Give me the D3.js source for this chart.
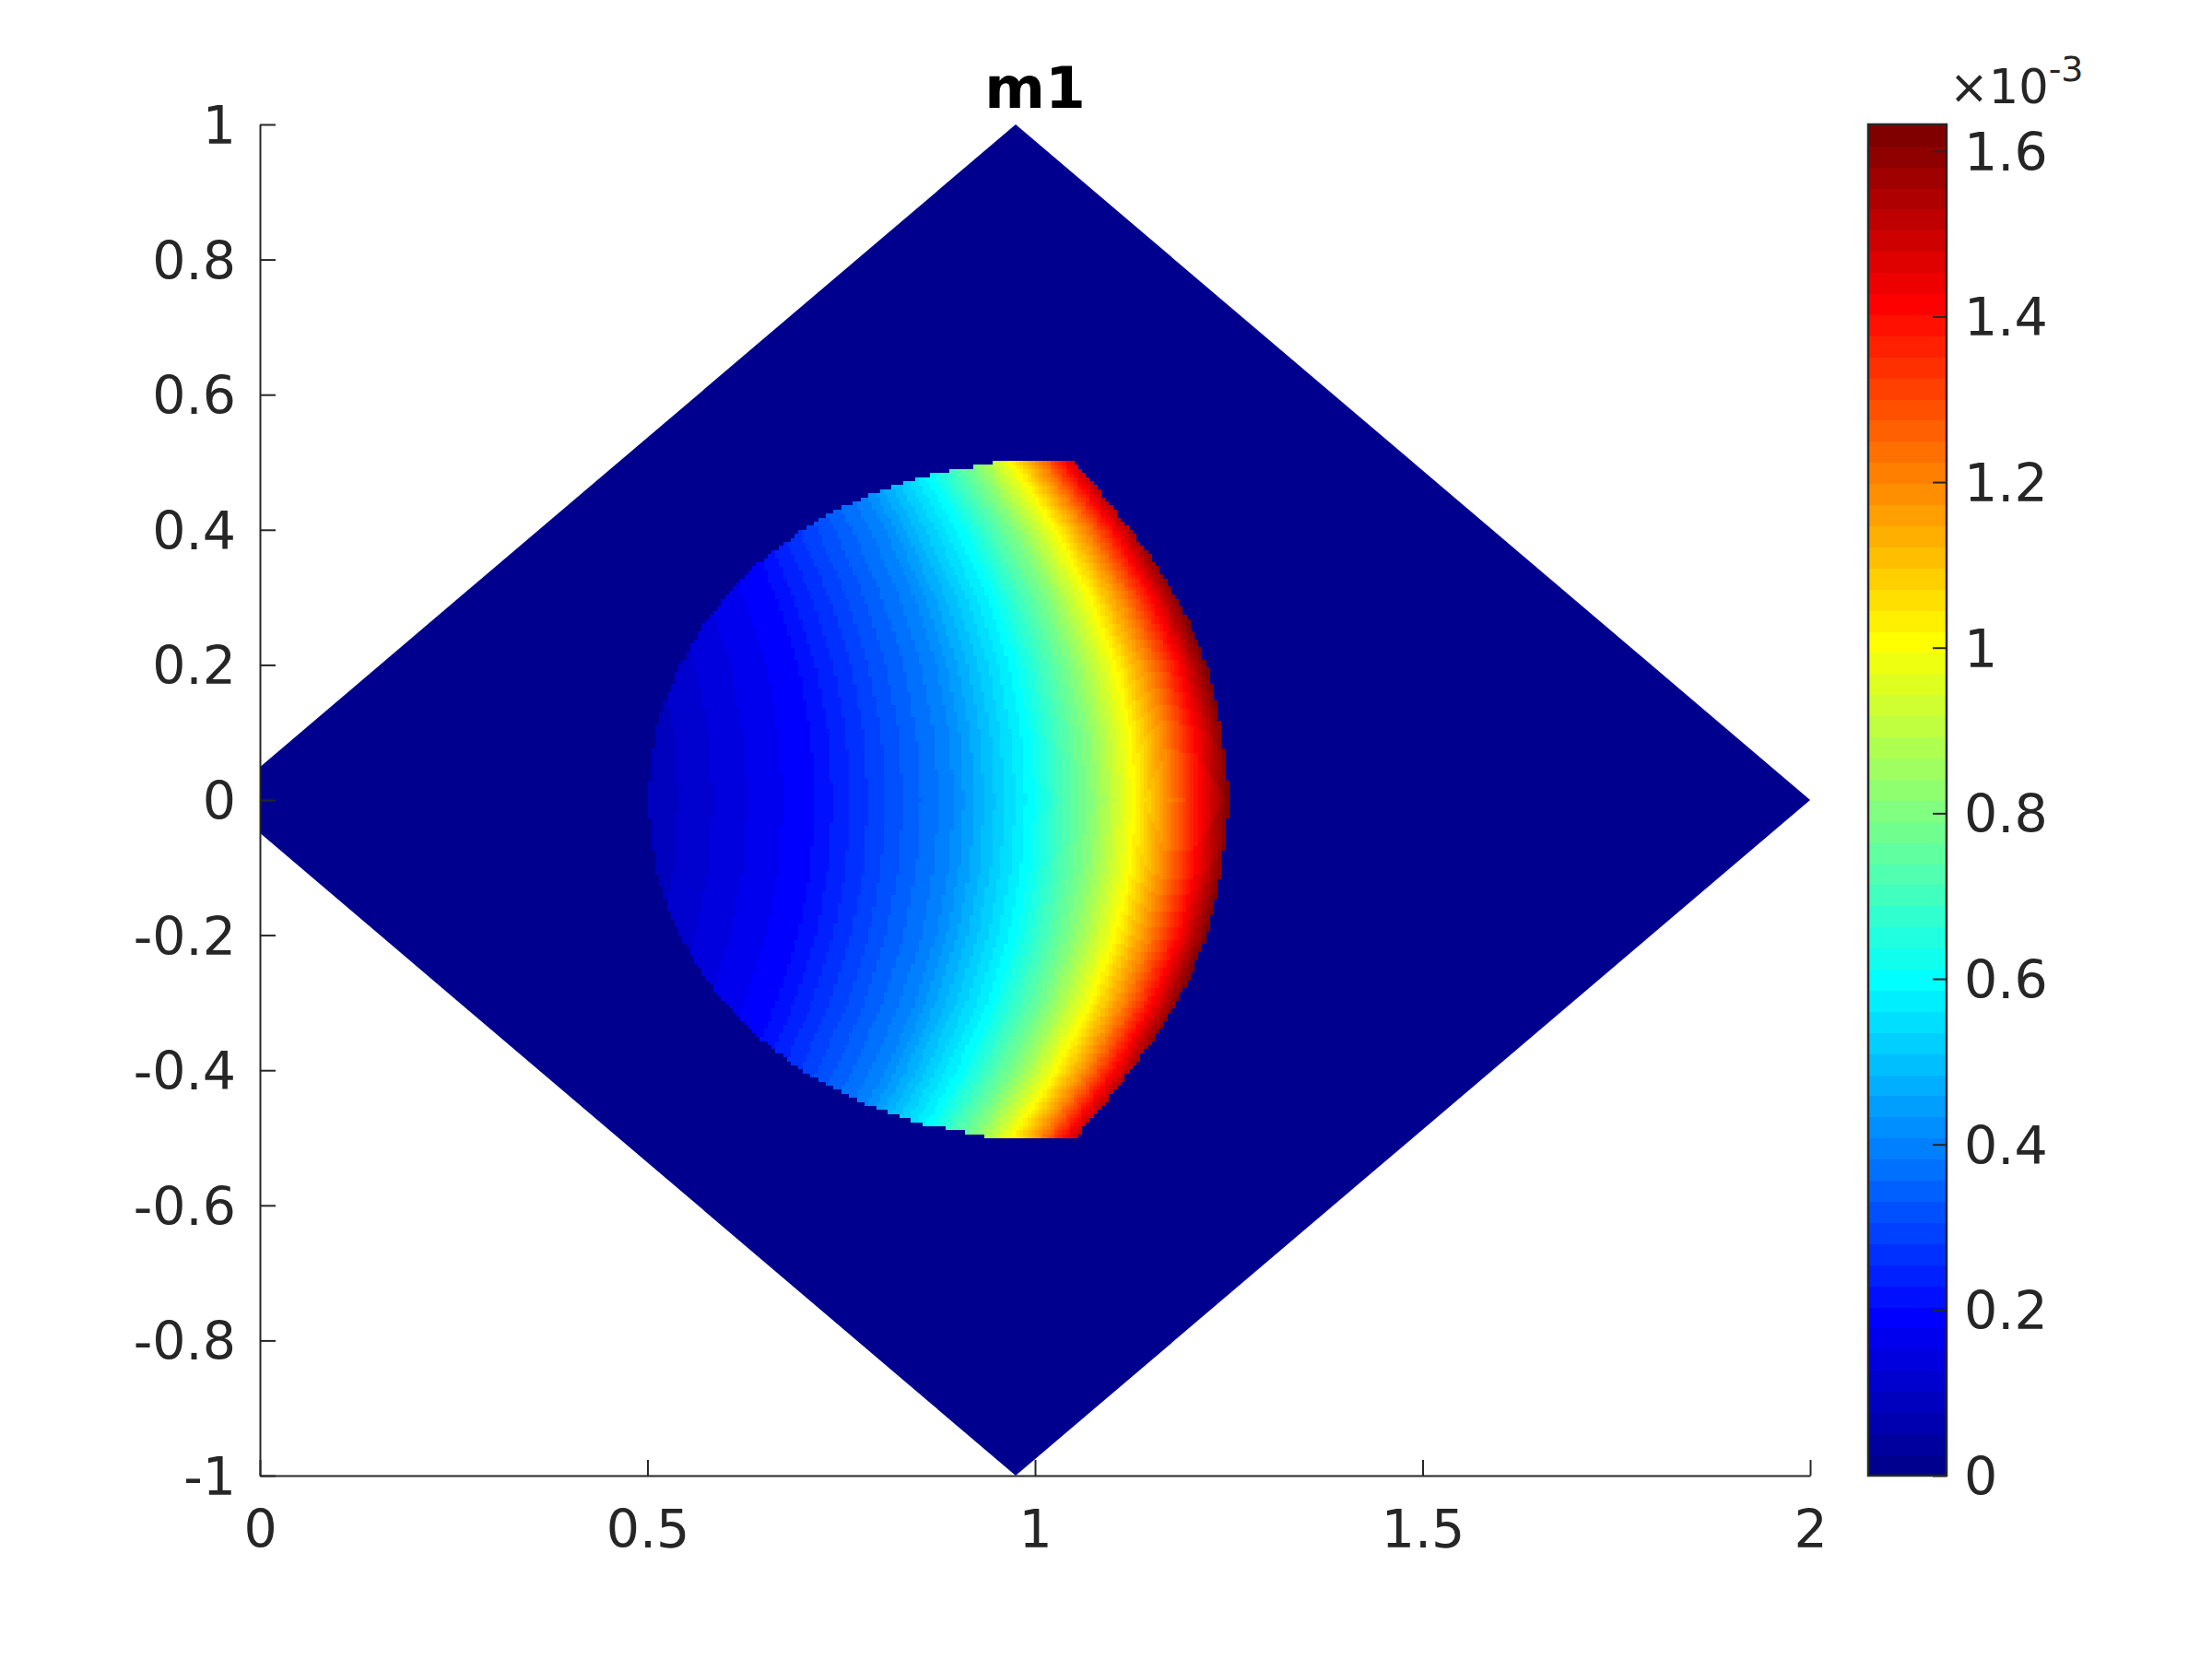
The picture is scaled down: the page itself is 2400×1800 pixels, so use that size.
<!DOCTYPE html>
<html>
<head>
<meta charset="utf-8">
<script src="https://cdn.jsdelivr.net/npm/d3@7"></script>
<style>
  body { margin: 0; background: #fff; }
  text { font-family: "DejaVu Sans", sans-serif; }
</style>
</head>
<body>
<svg id="chart" width="2400" height="1800"></svg>
<script>
// ---- data ----
// outer mesh (square turned 45 deg), cut by the axes at x = 0
var meshX = [-0.05, 0.975, 2.0, 0.975];
var meshY = [0, 1, 0, -1];

// where m1 is non zero (symmetric about y = 0)
var edgeY     = [0, 0.1, 0.15, 0.2, 0.26, 0.3, 0.35, 0.4, 0.42, 0.45, 0.48, 0.5];
var edgeLeft  = [0.5, 0.51, 0.523, 0.542, 0.573, 0.6, 0.643, 0.7, 0.729, 0.782, 0.86, 0.95];
var edgeRight = [1.25, 1.24, 1.232, 1.221, 1.2, 1.181, 1.155, 1.122, 1.108, 1.088, 1.066, 1.051];

// m1 levels (x 1e-3) and the x where each level is crossed on rows |y| = rowY
var rowY   = [0, 0.1, 0.2, 0.3, 0.4, 0.5];
var levels = [0.05, 0.1, 0.2, 0.4, 0.6, 0.8, 1.0, 1.2, 1.4, 1.6, 1.632];
var levelX = [
  [0.36, 0.355, 0.34, 0.31, 0.27, 0.22],
  [0.535, 0.53, 0.513, 0.485, 0.447, 0.398],
  [0.713, 0.707, 0.691, 0.663, 0.625, 0.575],
  [0.891, 0.885, 0.869, 0.841, 0.803, 0.753],
  [0.995, 0.989, 0.973, 0.945, 0.905, 0.855],
  [1.069, 1.063, 1.045, 1.015, 0.973, 0.919],
  [1.126, 1.12, 1.101, 1.069, 1.025, 0.968],
  [1.173, 1.166, 1.146, 1.113, 1.066, 1.006],
  [1.212, 1.205, 1.184, 1.149, 1.1, 1.037],
  [1.246, 1.239, 1.217, 1.181, 1.131, 1.066],
  [1.252, 1.245, 1.223, 1.187, 1.137, 1.072]
];

var cMax = 1.632;   // colour limit, x 1e-3
var xTicks = [0, 0.5, 1, 1.5, 2];
var yTicks = [-1, -0.8, -0.6, -0.4, -0.2, 0, 0.2, 0.4, 0.6, 0.8, 1];
var cTicks = [0, 0.2, 0.4, 0.6, 0.8, 1, 1.2, 1.4, 1.6];

// ---- layout ----
var plotLeft = 282, plotRight = 1964, plotTop = 135, plotBottom = 1601;
var cbLeft = 2027, cbRight = 2112;
var axisColor = "#262626";
var fontSize = 57;

var svg = d3.select("#chart");

var x = d3.scaleLinear().domain([0, 2]).range([plotLeft, plotRight]);
var y = d3.scaleLinear().domain([-1, 1]).range([plotBottom, plotTop]);

// MATLAB jet colormap with n entries
function jet(n) {
  var m = Math.ceil(n / 4), u = [], i;
  for (i = 1; i <= m; i++) u.push(i / m);
  for (i = 1; i < m; i++) u.push(1);
  for (i = m; i >= 1; i--) u.push(i / m);
  var g0 = Math.ceil(m / 2) - (n % 4 === 1 ? 1 : 0);
  var cols = d3.range(n).map(function() { return [0, 0, 0]; });
  u.forEach(function(v, k) {
    var g = g0 + k + 1, r = g + m, b = g - m;
    if (r <= n) cols[r - 1][0] = v;
    if (g <= n) cols[g - 1][1] = v;
    if (b >= 1) cols[b - 1][2] = v;
  });
  return cols.map(function(c) {
    return d3.rgb(c[0] * 255, c[1] * 255, c[2] * 255).formatHex();
  });
}
var jetColors = jet(64);
var color = d3.scaleQuantize().domain([0, cMax]).range(jetColors);

svg.append("defs").append("clipPath")
  .attr("id", "clip")
  .append("rect")
  .attr("x", plotLeft).attr("y", plotTop)
  .attr("width", plotRight - plotLeft).attr("height", plotBottom - plotTop);

var plot = svg.append("g").attr("clip-path", "url(#clip)");

// outer mesh, value 0
plot.append("path")
  .attr("d", d3.line()(meshX.map(function(d, i) { return [x(d), y(meshY[i])]; })) + "Z")
  .attr("fill", color(0));

// the non zero part, drawn as small mesh cells
var leftAt = d3.scaleLinear().domain(edgeY).range(edgeLeft);
var rightAt = d3.scaleLinear().domain(edgeY).range(edgeRight);
var levelAt = levelX.map(function(a) { return d3.scaleLinear().domain(rowY).range(a); });

var dx = 0.005, dy = 0.006;
var cells = plot.append("g").attr("shape-rendering", "crispEdges");
var nRow = Math.round(1 / dy);
for (var j = 0; j < nRow; j++) {
  var y0 = -0.5 + j * dy, y1 = y0 + dy, yc = Math.abs(y0 + dy / 2);
  if (yc > 0.5) continue;
  var xl = leftAt(yc), xr = rightAt(yc);
  var m1 = d3.scaleLinear()
    .domain(levelAt.map(function(s) { return s(yc); }))
    .range(levels)
    .clamp(true);
  var runStart = null, runColor = null, lastX = null;
  var flush = function() {
    if (runStart === null) return;
    cells.append("rect")
      .attr("x", x(runStart))
      .attr("y", y(y1))
      .attr("width", x(lastX) - x(runStart) + 0.6)
      .attr("height", y(y0) - y(y1) + 0.6)
      .attr("fill", runColor);
    runStart = null;
  };
  for (var i = 0; i < 160; i++) {
    var x0 = 0.45 + i * dx, xc = x0 + dx / 2;
    if (xc < xl || xc > xr) { flush(); continue; }
    var c = color(m1(xc));
    if (c !== runColor || runStart === null) { flush(); runStart = x0; runColor = c; }
    lastX = x0 + dx;
  }
  flush();
}

// ---- axes (box off, ticks inside) ----
function styleAxis(g) {
  g.attr("font-size", null).attr("font-family", null);
  g.selectAll("path, line").attr("stroke", axisColor).attr("stroke-width", 2);
  g.selectAll("text")
    .attr("fill", axisColor)
    .style("font-size", fontSize + "px")
    .style("font-family", "'DejaVu Sans', sans-serif");
}

svg.append("g")
  .attr("transform", "translate(0," + plotBottom + ")")
  .call(d3.axisBottom(x).tickValues(xTicks).tickSizeInner(-17).tickSizeOuter(0)
    .tickPadding(38).tickFormat(function(d) { return String(d); }))
  .call(styleAxis);

svg.append("g")
  .attr("transform", "translate(" + plotLeft + ",0)")
  .call(d3.axisLeft(y).tickValues(yTicks).tickSizeInner(-17).tickSizeOuter(0)
    .tickPadding(26).tickFormat(function(d) { return String(+d.toFixed(1)); }))
  .call(styleAxis)
  .selectAll("text").attr("dy", "0.36em");

// title
svg.append("text")
  .attr("x", (plotLeft + plotRight) / 2)
  .attr("y", 117)
  .attr("text-anchor", "middle")
  .style("font-size", "63px")
  .style("font-weight", "bold")
  .attr("fill", "#000")
  .text("m1");

// ---- colorbar ----
var cb = d3.scaleLinear().domain([0, cMax]).range([plotBottom, plotTop]);
var bandH = (plotBottom - plotTop) / jetColors.length;
svg.append("g").attr("shape-rendering", "crispEdges")
  .selectAll("rect")
  .data(jetColors)
  .join("rect")
  .attr("x", cbLeft)
  .attr("y", function(d, i) { return plotBottom - (i + 1) * bandH; })
  .attr("width", cbRight - cbLeft)
  .attr("height", bandH + 0.8)
  .attr("fill", function(d) { return d; });

svg.append("rect")
  .attr("x", cbLeft).attr("y", plotTop)
  .attr("width", cbRight - cbLeft).attr("height", plotBottom - plotTop)
  .attr("fill", "none")
  .attr("stroke", axisColor)
  .attr("stroke-width", 2.5);

svg.append("g")
  .attr("transform", "translate(" + cbRight + ",0)")
  .call(d3.axisRight(cb).tickValues(cTicks).tickSizeInner(-15).tickSizeOuter(0)
    .tickPadding(19).tickFormat(function(d) { return String(+d.toFixed(1)); }))
  .call(styleAxis)
  .call(function(g) { g.select(".domain").remove(); })
  .selectAll("text").attr("dy", "0.36em");

var expo = svg.append("text")
  .attr("x", 2115)
  .attr("y", 112)
  .attr("fill", axisColor)
  .style("font-size", "51px");
expo.append("tspan").text("\u00d710");
expo.append("tspan").attr("dy", -24).style("font-size", "38px").text("-3");
</script>
</body>
</html>
